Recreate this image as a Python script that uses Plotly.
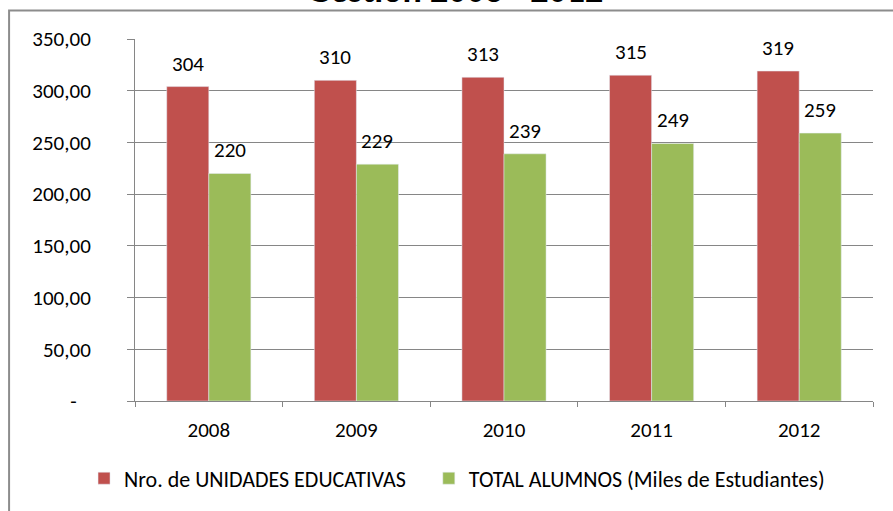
import plotly.graph_objects as go

years = ["2008", "2009", "2010", "2011", "2012"]
unidades = [304, 310, 313, 315, 319]
alumnos = [220, 229, 239, 249, 259]
series_names = ["Nro. de UNIDADES EDUCATIVAS", "TOTAL ALUMNOS (Miles de Estudiantes)"]
y_tickvals = [0, 50, 100, 150, 200, 250, 300, 350]
y_ticktext = ["-\u00a0\u00a0\u00a0", "50,00", "100,00", "150,00", "200,00", "250,00", "300,00", "350,00"]
title_text = "Gestión 2008 - 2012"

FONT = "Carlito, Calibri, Lato, sans-serif"
FS = 21
RED = "#C0504D"
GREEN = "#9BBB59"
GREY = "#868686"

# the page body margin is removed below, so figure pixel = screen pixel
W, H = 893, 511
L, T = 135, 39
pw, ph = 738.5, 362.5
R = W - L - pw
B = H - T - ph


def px_x(sx):
    return (sx - L) / pw


def px_y(sy):
    return 1 - (sy - T) / ph


fig = go.Figure()
fig.add_trace(go.Bar(x=years, y=unidades, name=series_names[0], marker_color=RED, legend="legend"))
fig.add_trace(go.Bar(x=years, y=alumnos, name=series_names[1], marker_color=GREEN, legend="legend2"))

annotations = []
for vals, shift in ((unidades, -21), (alumnos, 21)):
    for i, v in enumerate(vals):
        annotations.append(dict(x=i, y=v, xref="x", yref="y", text=str(v), showarrow=False,
                                xshift=shift, yshift=23, yanchor="middle",
                                font=dict(family=FONT, size=FS, color="black")))

annotations.append(dict(x=px_x(455), y=px_y(14), xref="paper", yref="paper",
                        text="<b>%s</b>" % title_text,
                        showarrow=False, yanchor="bottom", xanchor="center",
                        font=dict(family=FONT, size=36, color="black")))

leg_common = dict(orientation="h", xanchor="left", yanchor="middle",
                  font=dict(family=FONT, size=22, color="black"), bgcolor="rgba(0,0,0,0)")

fig.update_layout(
    width=W, height=H,
    margin=dict(l=L, r=R, t=T, b=B, pad=0, autoexpand=False),
    paper_bgcolor="white", plot_bgcolor="white",
    barmode="group", bargap=0.43, bargroupgap=0,
    font=dict(family=FONT, size=FS, color="black"),
    showlegend=True,
    legend=dict(x=px_x(104 - 20), y=px_y(479), **leg_common),
    legend2=dict(x=px_x(452 - 23), y=px_y(479), **leg_common),
    annotations=annotations,
    shapes=[dict(type="rect", xref="paper", yref="paper",
                 x0=px_x(9), x1=1.2, y0=-0.6, y1=px_y(10.5),
                 line=dict(color="#8C8C8C", width=2), fillcolor="rgba(0,0,0,0)", layer="below")],
)
fig.update_xaxes(type="category", showline=True, linecolor=GREY, linewidth=1,
                 ticks="outside", tickson="boundaries", ticklen=5, tickcolor=GREY,
                 showgrid=False, ticklabelstandoff=10,
                 tickfont=dict(family=FONT, size=FS, color="black"))
fig.update_yaxes(range=[0, 350], tickvals=y_tickvals, ticktext=y_ticktext,
                 showline=True, linecolor=GREY, linewidth=1,
                 ticks="outside", ticklen=7, tickcolor=GREY,
                 showgrid=True, gridcolor=GREY, gridwidth=1, zeroline=False,
                 ticklabelstandoff=32,
                 tickfont=dict(family=FONT, size=FS, color="black"))

fig.write_html("out.html", config={"displayModeBar": False},
               post_script="document.body.style.margin='0px';")
